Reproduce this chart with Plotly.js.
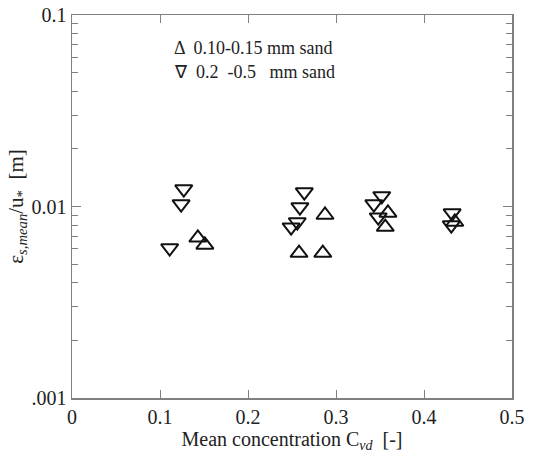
<!DOCTYPE html>
<html>
<head>
<meta charset="utf-8">
<script src="https://cdn.plot.ly/plotly-3.0.1.min.js"></script>
<style>
html,body{margin:0;padding:0;background:#fff;}
#chart{width:533px;height:457px;}
</style>
</head>
<body>
<div id="chart"></div>
<script>
// Data
var fineSandConc = [0.143, 0.151, 0.2875, 0.258, 0.285, 0.359, 0.356, 0.435];
var fineSandEps  = [0.00686, 0.00630, 0.00903, 0.00571, 0.00571, 0.00925, 0.00781, 0.0083];
var coarseSandConc = [0.127, 0.124, 0.111, 0.264, 0.259, 0.256, 0.249, 0.352, 0.343, 0.348, 0.432, 0.431];
var coarseSandEps  = [0.01233, 0.0103, 0.00607, 0.0119, 0.00993, 0.0083, 0.0078, 0.01135, 0.0103, 0.0088, 0.00924, 0.0080];
var yTickVals = [0.001, 0.01, 0.1];
var yTickText = ['.001', '0.01', '0.1'];
var yMinorVals = [0.002,0.003,0.004,0.005,0.006,0.007,0.008,0.009,0.02,0.03,0.04,0.05,0.06,0.07,0.08,0.09];
var legendLabels = ['\u0394  0.10-0.15 mm sand', '\u2207  0.2  -0.5   mm sand'];

var serif = '"Liberation Serif", "Times New Roman", serif';
var lineCol = '#808080';

var traces = [
  {
    x: fineSandConc, y: fineSandEps, type: 'scatter', mode: 'markers',
    name: '0.10-0.15 mm sand',
    marker: {symbol: 'triangle-up-open', size: 15, color: '#111', line: {width: 2, color: '#111'}},
    showlegend: false
  },
  {
    x: coarseSandConc, y: coarseSandEps, type: 'scatter', mode: 'markers',
    name: '0.2-0.5 mm sand',
    marker: {symbol: 'triangle-down-open', size: 15, color: '#111', line: {width: 2, color: '#111'}},
    showlegend: false
  }
];

var layout = {
  width: 533, height: 457,
  margin: {l: 72, r: 21, t: 15, b: 59},
  paper_bgcolor: '#fff', plot_bgcolor: '#fff',
  font: {family: serif, size: 18, color: '#222'},
  showlegend: false,
  xaxis: {
    range: [0, 0.5], tickvals: [0, 0.1, 0.2, 0.3, 0.4, 0.5],
    ticks: 'inside', ticklen: 8, tickcolor: lineCol, tickwidth: 1,
    showline: true, linecolor: lineCol, linewidth: 1.5, mirror: 'ticks',
    showgrid: false, zeroline: false,
    tickfont: {family: serif, size: 20, color: '#222'},
    title: {text: 'Mean concentration C<sub><i>vd</i></sub>  [-]', font: {family: serif, size: 20, color: '#222'}, standoff: 0}
  },
  yaxis: {
    type: 'log', range: [-3, -1],
    tickvals: yTickVals, ticktext: yTickText,
    ticks: 'inside', ticklen: 9, tickcolor: lineCol, tickwidth: 1,
    minor: {tickvals: yMinorVals, ticks: 'inside', ticklen: 6, tickcolor: lineCol, showgrid: false},
    showline: true, linecolor: lineCol, linewidth: 1.5, mirror: 'ticks',
    showgrid: false, zeroline: false,
    tickfont: {family: serif, size: 20, color: '#222'},
    title: {text: '\u03b5<sub><i>s,mean</i></sub>/u<sub>*</sub>  [m]', font: {family: serif, size: 21, color: '#222'}, standoff: 2}
  },
  annotations: [
    {xref: 'paper', yref: 'paper', x: 0.228, y: 0.915, xanchor: 'left', yanchor: 'middle',
     text: legendLabels[0], showarrow: false, font: {family: serif, size: 18, color: '#222'}},
    {xref: 'paper', yref: 'paper', x: 0.228, y: 0.85, xanchor: 'left', yanchor: 'middle',
     text: legendLabels[1], showarrow: false, font: {family: serif, size: 18, color: '#222'}}
  ]
};

Plotly.newPlot('chart', traces, layout, {displayModeBar: false, staticPlot: true});
</script>
</body>
</html>
